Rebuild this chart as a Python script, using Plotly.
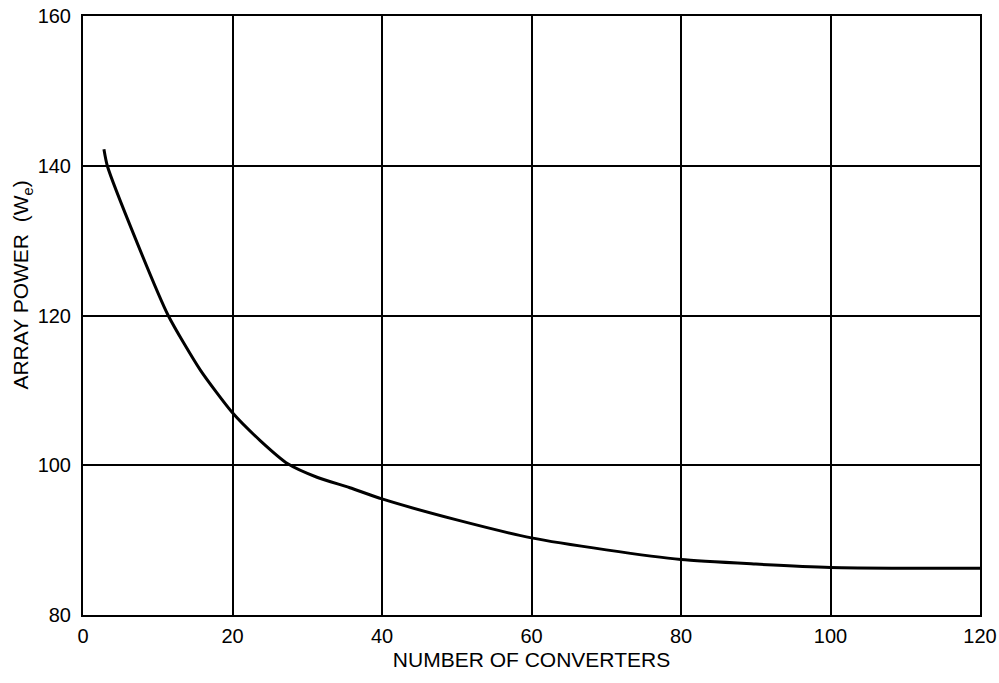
import plotly.graph_objects as go

converters = [2.8, 3.25, 7.0, 11.4, 15.7, 20, 23.7, 27.4, 31.3, 35.7, 40, 50, 60, 70, 80, 90, 100, 110, 120]
power = [142.2, 140.0, 130.3, 120.0, 112.7, 107.0, 103.3, 100.2, 98.4, 97.0, 95.5, 92.7, 90.3, 88.7, 87.4, 86.8, 86.35, 86.25, 86.25]

x_ticks = [0, 20, 40, 60, 80, 100, 120]
y_ticks = [80, 100, 120, 140, 160]

x_title = "NUMBER OF CONVERTERS"
y_title = "ARRAY POWER  (W<sub>e</sub>)"

fig = go.Figure()
fig.add_trace(go.Scatter(x=converters, y=power, mode="lines",
                         line=dict(color="black", width=3, shape="spline", smoothing=0.6),
                         showlegend=False, hoverinfo="skip"))

font = dict(family="Liberation Sans, Arial, sans-serif", color="black")

fig.update_layout(
    width=999, height=683,
    margin=dict(l=83, r=19, t=16, b=68),
    paper_bgcolor="white", plot_bgcolor="white",
    font=font,
    xaxis=dict(range=[0, 120], tickvals=x_ticks, ticktext=[str(v) for v in x_ticks],
               showgrid=True, gridcolor="black", gridwidth=2, automargin=False,
               showline=True, linecolor="black", linewidth=2, mirror=True,
               zeroline=False, ticks="", ticklabelstandoff=2,
               tickfont=dict(size=20, **font),
               title=dict(text=x_title, font=dict(size=21, **font), standoff=6)),
    yaxis=dict(range=[80, 160], tickvals=y_ticks, ticktext=[str(v) for v in y_ticks],
               showgrid=True, gridcolor="black", gridwidth=2, automargin=False,
               showline=True, linecolor="black", linewidth=2, mirror=True,
               zeroline=False, ticks="", ticklabelstandoff=6,
               tickfont=dict(size=20, **font)),
    annotations=[dict(text=y_title, xref="paper", yref="paper", x=-0.068, y=0.55,
                      xanchor="center", yanchor="middle", textangle=-90, showarrow=False,
                      font=dict(size=21, **font))],
)

fig.write_html("out.html")
